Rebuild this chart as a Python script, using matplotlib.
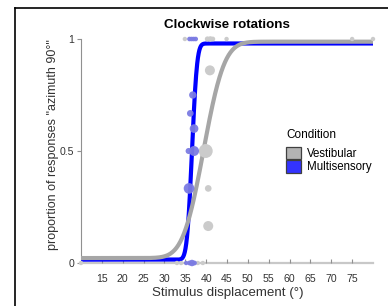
import math
import numpy as np
import matplotlib
matplotlib.use("Agg")
import matplotlib.pyplot as plt
from matplotlib.patches import Patch
from matplotlib.lines import Line2D

plt.rcParams['font.family'] = ['Liberation Sans', 'DejaVu Sans']

# ---- data ----
conditions = ["Vestibular", "Multisensory"]

# psychometric fit parameters: mu, sigma, lower asymptote, upper asymptote
vest_fit = [39.4, 3.9, 0.022, 0.988]
multi_fit = [36.6, 0.95, 0.015, 0.98]

# observed proportions (x = displacement, y = proportion, n = relative weight)
vest_x = [34.9, 40.3, 41.0, 41.6, 44.9, 75.0, 80.0, 40.9, 39.9, 40.5, 40.5, 10.0, 33.0, 34.0, 38.0, 39.2]
vest_y = [1.0, 1.0, 1.0, 1.0, 1.0, 1.0, 1.0, 0.86, 0.5, 0.333, 0.165, 0.0, 0.0, 0.0, 0.0, 0.0]
vest_n = [10, 14, 16, 12, 10, 10, 10, 52, 101, 23, 52, 10, 10, 10, 10, 10]

multi_x = [36.0, 36.5, 37.0, 37.5, 36.8, 36.2, 37.1, 37.1, 35.8, 35.9, 35.2, 36.0, 36.6, 37.2]
multi_y = [1.0, 1.0, 1.0, 1.0, 0.75, 0.668, 0.60, 0.50, 0.50, 0.333, 0.0, 0.0, 0.0, 0.0]
multi_n = [11, 11, 11, 11, 28, 23, 39, 52, 19, 59, 10, 12, 22, 12]

xticks = [15, 20, 25, 30, 35, 40, 45, 50, 55, 60, 65, 70, 75]
yticks = [0, 0.5, 1]
yticklabels = ["0", "0.5", "1"]


def psy(x, p):
    mu, sd, lo, hi = p
    cdf = np.array([0.5 * (1 + math.erf((v - mu) / (sd * math.sqrt(2)))) for v in x])
    return lo + (hi - lo) * cdf


W, H = 388, 306
fig = plt.figure(figsize=(W / 100, H / 100), dpi=100)
ax = fig.add_axes([81 / W, 1 - 263 / H, (373 - 81) / W, (263 - 39) / H])

xs = np.linspace(10, 80, 800)
ax.plot(xs, psy(xs, multi_fit), color='#0000ff', lw=3.0, solid_capstyle='butt', zorder=2)
ax.plot(xs, psy(xs, vest_fit), color='#a6a6a6', lw=3.0, solid_capstyle='butt', zorder=2.5)

ax.scatter(vest_x, vest_y, s=vest_n, color='#cbcbcb', edgecolors='none', zorder=3, clip_on=False)
ax.scatter(multi_x, multi_y, s=multi_n, color='#7b7be2', edgecolors='none', alpha=0.95, zorder=3.5, clip_on=False)

ax.set_xlim(10, 80)
ax.set_ylim(0, 1)
for s in ['top', 'right']:
    ax.spines[s].set_visible(False)
ax.spines['left'].set_color('#909090')
ax.spines['left'].set_linewidth(0.8)
ax.spines['bottom'].set_color('#c8c8c8')
ax.spines['bottom'].set_linewidth(1.6)
ax.spines['left'].set_zorder(1)
ax.spines['bottom'].set_zorder(1)

ax.set_xticks(xticks)
ax.set_xticklabels([str(t) for t in xticks])
ax.set_yticks(yticks)
ax.set_yticklabels(yticklabels)
ax.tick_params(axis='x', direction='in', length=3, width=0.8, color='#909090',
               labelsize=7.6, labelcolor='#333333', pad=8)
ax.tick_params(axis='y', direction='out', length=3, width=0.8, color='#909090',
               labelsize=7.6, labelcolor='#333333', pad=2)

ax.text(0.5, 1.0625, "Clockwise rotations", transform=ax.transAxes, ha='center', va='center',
        fontsize=9.6, fontweight='bold', color='black')

fig.text(53 / W, 1 - 145 / H, 'proportion of responses "azimuth 90°"', rotation=90,
         ha='center', va='center', fontsize=9, color='#333333')
fig.text(228 / W, 1 - 293 / H, 'Stimulus displacement (°)', ha='center', va='center',
         fontsize=9.6, color='#333333')

# legend
fig.text(286 / W, 1 - 135 / H, 'Condition', ha='left', va='center', fontsize=8.5, color='black')
handles = [Patch(facecolor='#b3b3b3', edgecolor='#404040', lw=0.9),
           Patch(facecolor='#3333ff', edgecolor='#404040', lw=0.9)]
leg = ax.legend(handles, conditions, loc='upper left', bbox_to_anchor=(286 / W, 1 - 146.5 / H),
                bbox_transform=fig.transFigure, frameon=False, fontsize=8.3,
                borderpad=0, borderaxespad=0, labelspacing=0, handleheight=1.34,
                handlelength=1.3, handletextpad=0.52)
for t in leg.get_texts():
    t.set_color('black')

# panel frame
fig.add_artist(Line2D([14.5 / W, 14.5 / W], [0, 1 - 8 / H], transform=fig.transFigure,
                      color='black', lw=1.2))
fig.add_artist(Line2D([14.5 / W, 1], [1 - 8 / H, 1 - 8 / H], transform=fig.transFigure,
                      color='black', lw=1.2))

fig.savefig('out.png', dpi=100)
